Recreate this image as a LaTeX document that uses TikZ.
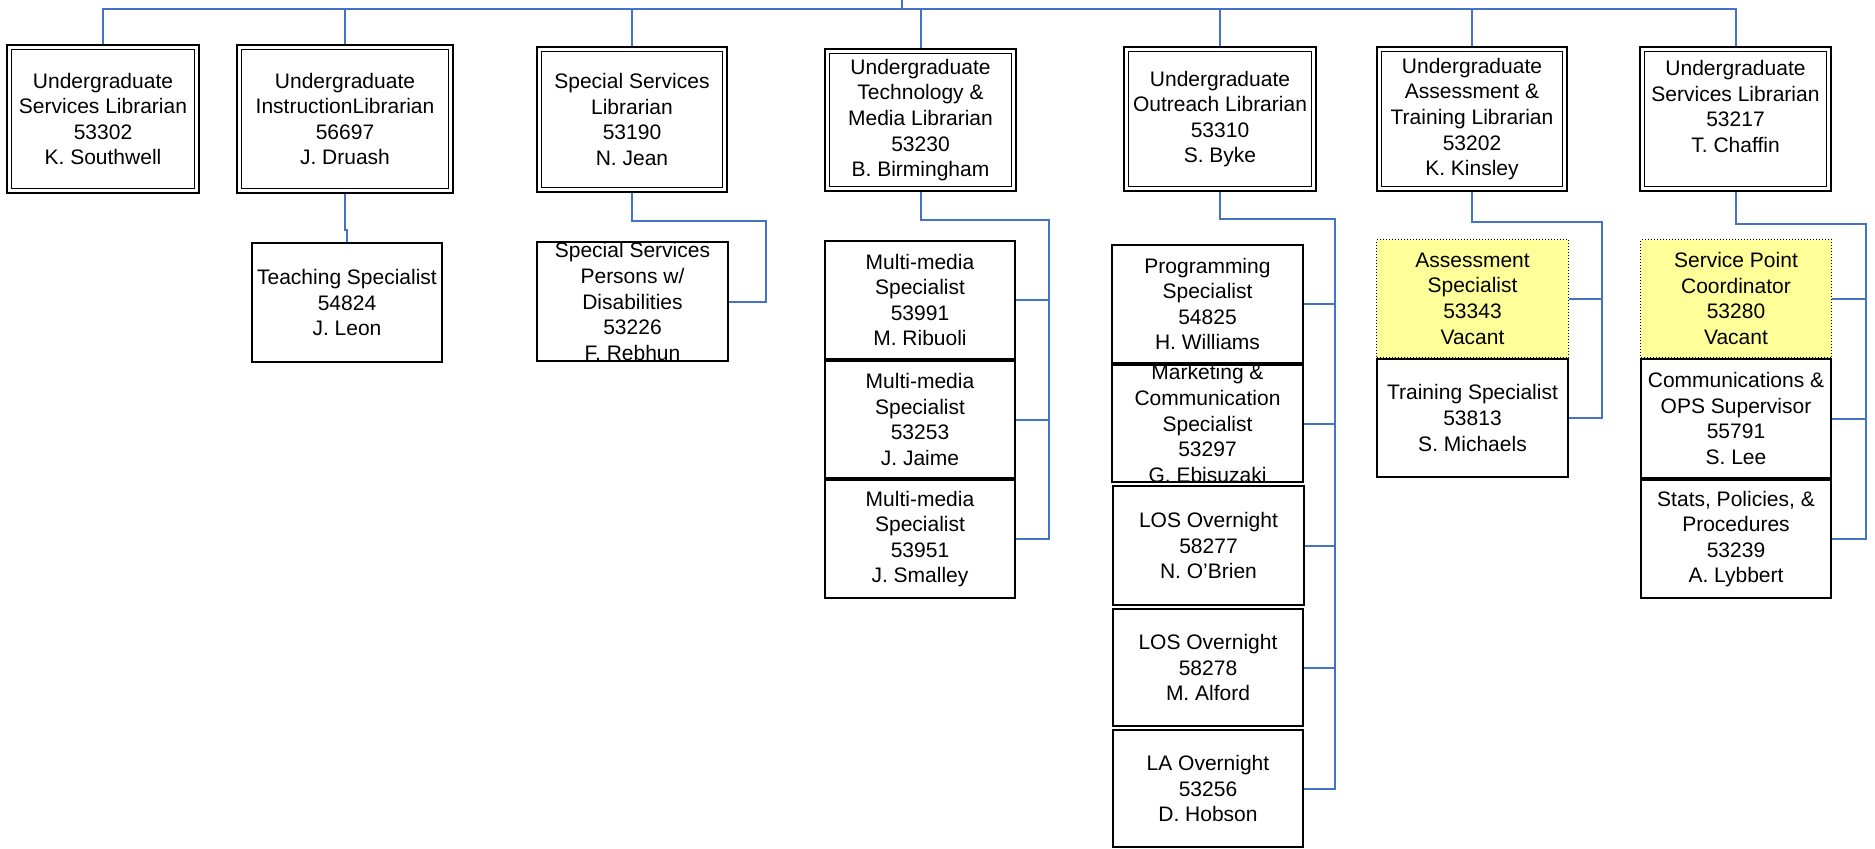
\documentclass[tikz,border=0pt]{standalone}
\usepackage{fontspec}
\setmainfont{Liberation Sans}
\usetikzlibrary{calc}
\definecolor{connblue}{HTML}{4472C4}
\definecolor{vacantyellow}{RGB}{255,255,153}
\begin{document}
\begin{tikzpicture}[x=1pt,y=-1pt,
  every node/.style={font=\fontsize{21}{25.6}\selectfont, align=center, inner sep=0pt},
  dblbox/.style 2 args={draw=black, line width=1.8pt, double=white, double distance=2.8pt,
     minimum width=#1, minimum height=#2, outer sep=3.2pt},
  onebox/.style 2 args={draw=black, line width=2pt, fill=white,
     minimum width=#1, minimum height=#2, outer sep=1pt},
  vacbox/.style 2 args={draw=black, line width=1pt, dash pattern=on 1pt off 2pt, fill=vacantyellow,
     minimum width=#1, minimum height=#2, outer sep=0.5pt},
  conn/.style={draw=connblue, line width=2pt}]
\fill[white] (0,0) rectangle (1875,849);
\useasboundingbox (0,0) rectangle (1875,849);

% top level
\node[dblbox={187.6pt}{143.6pt}] (b1) at (103,119) {Undergraduate\\Services Librarian\\53302\\K. Southwell};
\node[dblbox={211.6pt}{143.6pt}] (b2) at (345,119) {Undergraduate\\InstructionLibrarian\\56697\\J. Druash};
\node[dblbox={185.6pt}{140.6pt}] (b3) at (632,119.5) {Special Services\\Librarian\\53190\\N. Jean};
\node[dblbox={186.6pt}{137.6pt}] (b4) at (920.5,120) {Undergraduate\\Technology \&\\Media Librarian\\53230\\B. Birmingham};
\node[dblbox={187.6pt}{139.6pt}] (b5) at (1220,119) {Undergraduate\\Outreach Librarian\\53310\\S. Byke};
\node[dblbox={185.6pt}{139.6pt}] (b6) at (1472,119) {Undergraduate\\Assessment \&\\Training Librarian\\53202\\K. Kinsley};
\node[dblbox={186.6pt}{139.6pt}] (b7) at (1735.5,119) {Undergraduate\\Services Librarian\\53217\\T. Chaffin\\\phantom{T}};

% column 2
\node[onebox={190pt}{119pt}] (t1) at (347,302.5) {Teaching Specialist\\54824\\J. Leon};
% column 3
\node[onebox={191pt}{119pt}] (s1) at (632.5,301.5) {Special Services\\Persons w/\\Disabilities\\53226\\F. Rebhun};
% column 4
\node[onebox={190pt}{118pt}] (m1) at (920,300) {Multi-media\\Specialist\\53991\\M. Ribuoli};
\node[onebox={190pt}{117pt}] (m2) at (920,419.5) {Multi-media\\Specialist\\53253\\J. Jaime};
\node[onebox={190pt}{118pt}] (m3) at (920,539) {Multi-media\\Specialist\\53951\\J. Smalley};
% column 5
\node[onebox={191pt}{118pt}] (p1) at (1207.5,304) {Programming\\Specialist\\54825\\H. Williams};
\node[onebox={191pt}{117pt}] (p2) at (1207.5,423.5) {Marketing \&\\Communication\\Specialist\\53297\\G. Ebisuzaki};
\node[onebox={191pt}{119pt}] (p3) at (1208.5,545.5) {LOS Overnight\\58277\\N. O'Brien};
\node[onebox={190pt}{117pt}] (p4) at (1208,667.5) {LOS Overnight\\58278\\M. Alford};
\node[onebox={190pt}{117pt}] (p5) at (1208,788.5) {LA Overnight\\53256\\D. Hobson};
% column 6
\node[vacbox={192pt}{118pt}] (a1) at (1472.5,298.5) {Assessment\\Specialist\\53343\\Vacant};
\node[onebox={191pt}{118pt}] (a2) at (1472.5,418) {Training Specialist\\53813\\S. Michaels};
% column 7
\node[vacbox={191pt}{118pt}] (c1) at (1736,298.5) {Service Point\\Coordinator\\53280\\Vacant};
\node[onebox={190pt}{119pt}] (c2) at (1736,418.5) {Communications \&\\OPS Supervisor\\55791\\S. Lee};
\node[onebox={190pt}{118pt}] (c3) at (1736,539) {Stats, Policies, \&\\Procedures\\53239\\A. Lybbert};

% connectors
\coordinate (root) at (902,0);
\coordinate (bar) at (902,9);
\foreach \b in {b1,b2,b3,b4,b5,b6,b7}
  \draw[conn] (root) -- (bar) -| (\b.north);

\draw[conn] (b2.south) -- ++(0,36) -| (t1.north);

\coordinate (j3) at (766,221);
\draw[conn] (b3.south) |- (j3) |- (s1.east);

\coordinate (j4) at (1049,220);
\draw[conn] (b4.south) |- (j4) |- (m3.east);
\draw[conn] (j4) |- (m1.east);
\draw[conn] (j4) |- (m2.east);

\coordinate (j5) at (1335,219);
\draw[conn] (b5.south) |- (j5) |- (p5.east);
\foreach \n in {p1,p2,p3,p4}
  \draw[conn] (j5) |- (\n.east);

\coordinate (j6) at (1602,222);
\draw[conn] (b6.south) |- (j6) |- (a2.east);
\draw[conn] (j6) |- (a1.east);

\coordinate (j7) at (1866,224);
\draw[conn] (b7.south) |- (j7) |- (c3.east);
\draw[conn] (j7) |- (c1.east);
\draw[conn] (j7) |- (c2.east);
\end{tikzpicture}
\end{document}
